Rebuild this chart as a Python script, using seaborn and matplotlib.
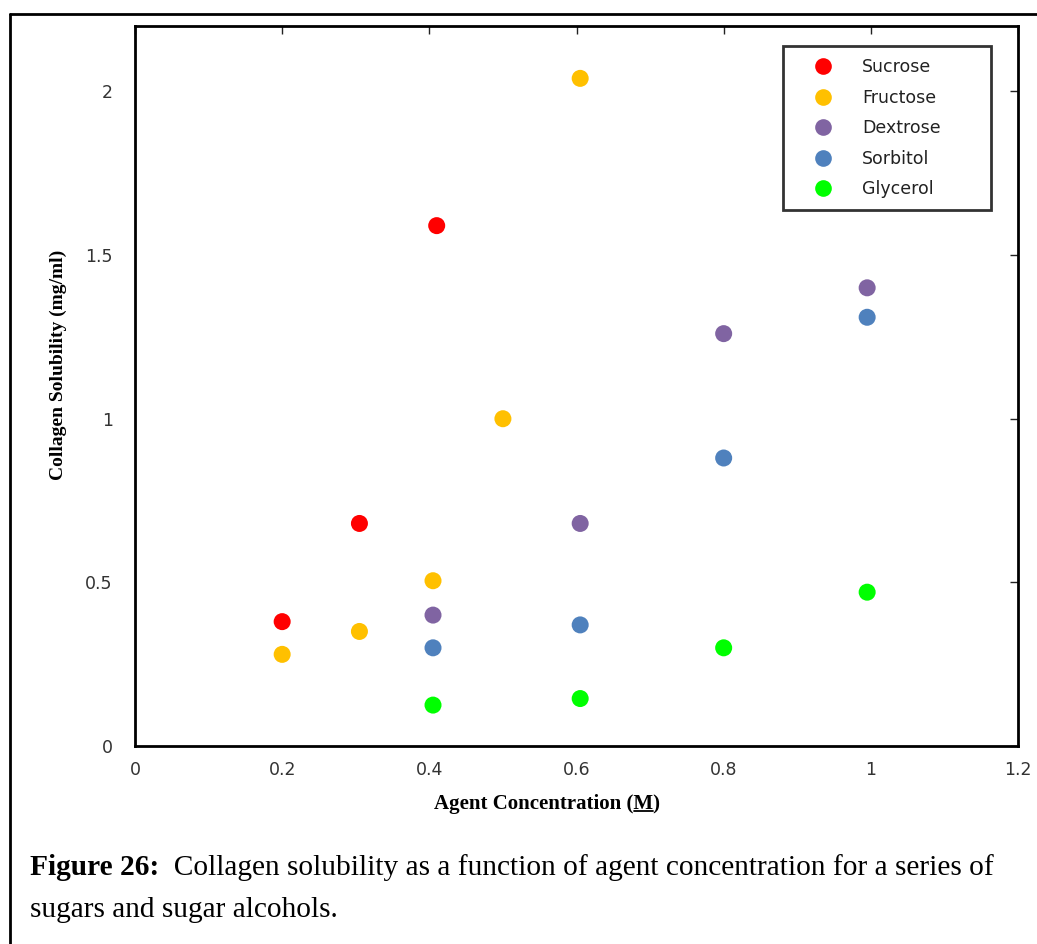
import matplotlib
matplotlib.use("Agg")
import matplotlib.pyplot as plt
from matplotlib.lines import Line2D
import seaborn as sns
import pandas as pd

# Collagen solubility (mg/ml) versus agent concentration (M)
sucrose_conc = [0.20, 0.305, 0.41]
sucrose_sol = [0.38, 0.68, 1.59]

fructose_conc = [0.20, 0.305, 0.405, 0.50, 0.605]
fructose_sol = [0.28, 0.35, 0.505, 1.00, 2.04]

dextrose_conc = [0.405, 0.605, 0.80, 0.995]
dextrose_sol = [0.40, 0.68, 1.26, 1.40]

sorbitol_conc = [0.405, 0.605, 0.80, 0.995]
sorbitol_sol = [0.30, 0.37, 0.88, 1.31]

glycerol_conc = [0.405, 0.605, 0.80, 0.995]
glycerol_sol = [0.125, 0.145, 0.30, 0.47]

agents = ["Sucrose", "Fructose", "Dextrose", "Sorbitol", "Glycerol"]
colors = ["#FF0000", "#FFC000", "#8064A2", "#4F81BD", "#00FF00"]

x_ticks = [0, 0.2, 0.4, 0.6, 0.8, 1, 1.2]
x_tick_labels = ["0", "0.2", "0.4", "0.6", "0.8", "1", "1.2"]
y_ticks = [0, 0.5, 1, 1.5, 2]
y_tick_labels = ["0", "0.5", "1", "1.5", "2"]

series = {
    "Sucrose": (sucrose_conc, sucrose_sol),
    "Fructose": (fructose_conc, fructose_sol),
    "Dextrose": (dextrose_conc, dextrose_sol),
    "Sorbitol": (sorbitol_conc, sorbitol_sol),
    "Glycerol": (glycerol_conc, glycerol_sol),
}
frames = [pd.DataFrame({"conc": c, "sol": s, "agent": name})
          for name, (c, s) in series.items()]
df = pd.concat(frames, ignore_index=True)

sns.set_style("white")
plt.rcParams["font.family"] = ["DejaVu Sans"]

W, H, DPI = 1037, 944, 100
fig = plt.figure(figsize=(W / DPI, H / DPI), dpi=DPI)
ax = fig.add_axes([135 / W, 1 - 746 / H, (1018 - 135) / W, (746 - 26) / H])

sns.scatterplot(data=df, x="conc", y="sol", hue="agent", hue_order=agents,
                palette=dict(zip(agents, colors)), s=150, linewidth=0,
                ax=ax, legend=False, zorder=3)

ax.set_xlim(0, 1.2)
ax.set_ylim(0, 2.2)
ax.set_xticks(x_ticks)
ax.set_xticklabels(x_tick_labels)
ax.set_yticks(y_ticks)
ax.set_yticklabels(y_tick_labels)
ax.tick_params(axis="both", which="both", direction="in", length=6, width=1,
               top=True, right=True, labelsize=12.5, labelcolor="#333333",
               color="#222222")
ax.tick_params(axis="x", pad=11)
ax.tick_params(axis="y", pad=16)
for sp in ax.spines.values():
    sp.set_linewidth(2)
    sp.set_color("black")

serif = ["Liberation Serif", "DejaVu Serif"]
XL_SIZE = 15
ax.set_xlabel("Agent Concentration (M)", family=serif, fontweight="bold",
              fontsize=XL_SIZE, color="black")
ax.xaxis.set_label_coords(0.467, -0.067)
ax.set_ylabel("Collagen Solubility (mg/ml)", family=serif, fontweight="bold",
              fontsize=14, color="black")
ax.yaxis.set_label_coords(-0.077, 0.53)

handles = [Line2D([], [], marker="o", linestyle="none", markersize=12,
                  markerfacecolor=c, markeredgewidth=0) for c in colors]
leg = ax.legend(handles, agents, loc="upper left",
                bbox_to_anchor=(0.734, 0.740, 0.235, 0.232), mode="expand",
                borderaxespad=0, frameon=True, fancybox=False, fontsize=12.5,
                labelspacing=0.72, handletextpad=0.64, borderpad=0.7,
                handlelength=3.2)
leg.get_frame().set_edgecolor("black")
leg.get_frame().set_linewidth(2)
for t in leg.get_texts():
    t.set_color("#222222")

# outer figure frame (open at right and bottom)
fig.add_artist(Line2D([10 / W, 10 / W], [0, 1 - 14 / H], transform=fig.transFigure,
                      color="black", linewidth=2))
fig.add_artist(Line2D([10 / W, 1], [1 - 14 / H, 1 - 14 / H], transform=fig.transFigure,
                      color="black", linewidth=2))

# caption
fig.canvas.draw()
renderer = fig.canvas.get_renderer()
cap_kw = dict(family=serif, fontsize=21.2, va="baseline", ha="left", color="black")
bold = fig.text(30 / W, 1 - 875 / H, "Figure 26:", fontweight="bold", **cap_kw)
bw = bold.get_window_extent(renderer).width
fig.text((30 + bw) / W, 1 - 875 / H,
         "  Collagen solubility as a function of agent concentration for a series of",
         **cap_kw)
fig.text(30 / W, 1 - 917 / H, "sugars and sugar alcohols.", **cap_kw)

# underline the unit symbol in the x label
fig.canvas.draw()
xl = ax.xaxis.label
full = xl.get_window_extent(renderer)
probe = fig.text(0, 0, "Agent Concentration (", family=serif, fontweight="bold",
                 fontsize=XL_SIZE)
pre_w = probe.get_window_extent(renderer).width
probe.set_text("M")
m_w = probe.get_window_extent(renderer).width
probe.remove()
ux0 = full.x0 + pre_w
uy = full.y0 + 3
fig.add_artist(Line2D([ux0 / W, (ux0 + m_w) / W], [uy / H, uy / H],
                      transform=fig.transFigure, color="black", linewidth=1.3))

fig.savefig("out.png", dpi=DPI)
